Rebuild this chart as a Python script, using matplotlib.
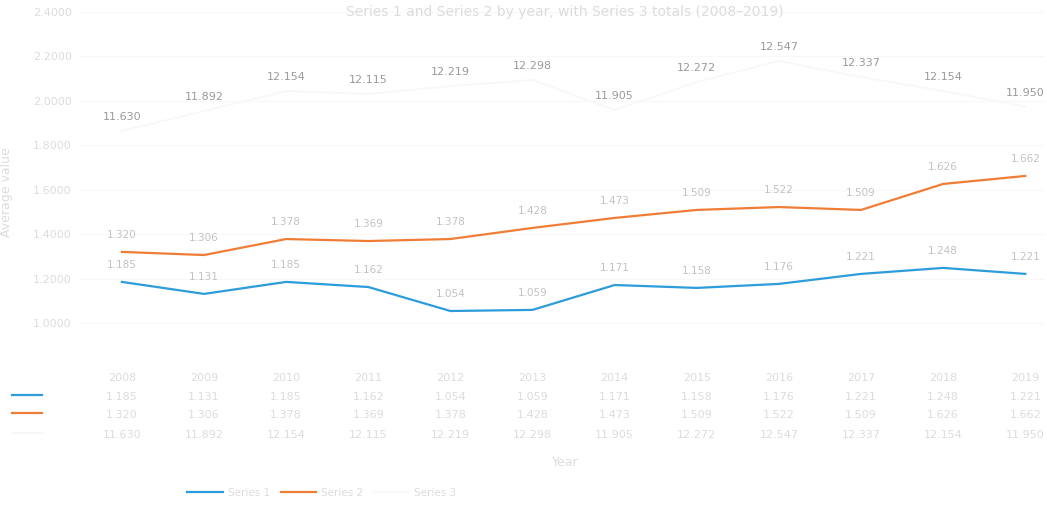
import matplotlib
matplotlib.use("Agg")
import matplotlib.pyplot as plt
from matplotlib.lines import Line2D
from matplotlib.transforms import blended_transform_factory

# ── Data ──────────────────────────────────────────────────────────────────────
YEARS    = ["2008", "2009", "2010", "2011", "2012", "2013",
            "2014", "2015", "2016", "2017", "2018", "2019"]
SERIES_1 = [1.185, 1.131, 1.185, 1.162, 1.054, 1.059,
            1.171, 1.158, 1.176, 1.221, 1.248, 1.221]
SERIES_2 = [1.320, 1.306, 1.378, 1.369, 1.378, 1.428,
            1.473, 1.509, 1.522, 1.509, 1.626, 1.662]
SERIES_3 = [11.630, 11.892, 12.154, 12.115, 12.219, 12.298,
            11.905, 12.272, 12.547, 12.337, 12.154, 11.950]
NAMES    = ["Series 1", "Series 2", "Series 3"]
Y_TICKS  = [1.0, 1.2, 1.4, 1.6, 1.8, 2.0, 2.2, 2.4]

# ── Style ─────────────────────────────────────────────────────────────────────
BLUE     = "#2d9cdb"
ORANGE   = "#ef7d35"
PALE     = "#f8f8f8"
TXT_PALE = "#dcdcdc"
TXT_MID  = "#c2c2c2"
TXT_DARK = "#9a9a9a"

W, H = 1047, 512
fig = plt.figure(figsize=(W / 100, H / 100), dpi=100)
ax = fig.add_axes([80 / W, 1 - 340 / H, 965 / W, 340 / H])

x = list(range(len(YEARS)))

ax.plot(x, SERIES_1, color=BLUE, linewidth=1.6)
ax.plot(x, SERIES_2, color=ORANGE, linewidth=1.6)

ax.set_xlim(-0.51, 11.24)
ax.set_ylim(0.9235, 2.454)
ax.set_yticks(Y_TICKS)
ax.set_yticklabels([f"{v:.4f}" for v in Y_TICKS], color=TXT_PALE, fontsize=8)
ax.set_xticks([])
ax.tick_params(axis="y", length=0, pad=6)
for s in ax.spines.values():
    s.set_visible(False)
ax.grid(axis="y", color="#f8f8f8", linewidth=0.8)
ax.set_ylabel("Average value", color=TXT_PALE, fontsize=9)
ax.yaxis.set_label_coords(-0.069, 0.435)

for xi, a, b in zip(x, SERIES_1, SERIES_2):
    ax.annotate(f"{a:.3f}", (xi, a), textcoords="offset points", xytext=(0, 12),
                ha="center", va="center", fontsize=7.5, color=TXT_MID)
    ax.annotate(f"{b:.3f}", (xi, b), textcoords="offset points", xytext=(0, 12),
                ha="center", va="center", fontsize=7.5, color=TXT_MID)

# third series on its own scale, drawn very faintly
ax2 = ax.twinx()
ax2.plot(x, SERIES_3, color=PALE, linewidth=1.4)
ax2.set_ylim(8.892, 13.346)
ax2.set_yticks([])
for s in ax2.spines.values():
    s.set_visible(False)
for xi, c in zip(x, SERIES_3):
    ax2.annotate(f"{c:.3f}", (xi, c), textcoords="offset points", xytext=(0, 10),
                 ha="center", va="center", fontsize=8, color=TXT_DARK)

# ── Data table under the plot ────────────────────────────────────────────────
tr = blended_transform_factory(ax.transData, fig.transFigure)
rows_y = [1 - 378 / H, 1 - 397 / H, 1 - 415 / H, 1 - 435 / H]
for xi, yr, a, b, c in zip(x, YEARS, SERIES_1, SERIES_2, SERIES_3):
    ax.text(xi, rows_y[0], yr, transform=tr, ha="center", va="center",
            fontsize=8, color=TXT_PALE)
    ax.text(xi, rows_y[1], f"{a:.3f}", transform=tr, ha="center", va="center",
            fontsize=8, color=TXT_PALE)
    ax.text(xi, rows_y[2], f"{b:.3f}", transform=tr, ha="center", va="center",
            fontsize=8, color=TXT_PALE)
    ax.text(xi, rows_y[3], f"{c:.3f}", transform=tr, ha="center", va="center",
            fontsize=8, color=TXT_PALE)

for yy, col in zip(rows_y[1:], [BLUE, ORANGE, PALE]):
    fig.add_artist(Line2D([12 / W, 42 / W], [yy + 2 / H, yy + 2 / H],
                          color=col, linewidth=1.6))

fig.text(565 / W, 1 - 462 / H, "Year", ha="center", va="center",
         fontsize=9, color=TXT_PALE)
fig.text(565 / W, 1 - 12 / H,
         "Series 1 and Series 2 by year, with Series 3 totals (2008\u20132019)",
         ha="center", va="center", fontsize=10, color=TXT_PALE)

handles = [Line2D([], [], color=c, linewidth=1.6) for c in [BLUE, ORANGE, PALE]]
fig.legend(handles, NAMES, loc="center left", bbox_to_anchor=(178 / W, 1 - 493 / H),
           ncol=3, frameon=False, handlelength=3.4, handletextpad=0.5,
           columnspacing=1.0, fontsize=7.5, labelcolor=TXT_PALE)

fig.savefig("out.png", dpi=100)
